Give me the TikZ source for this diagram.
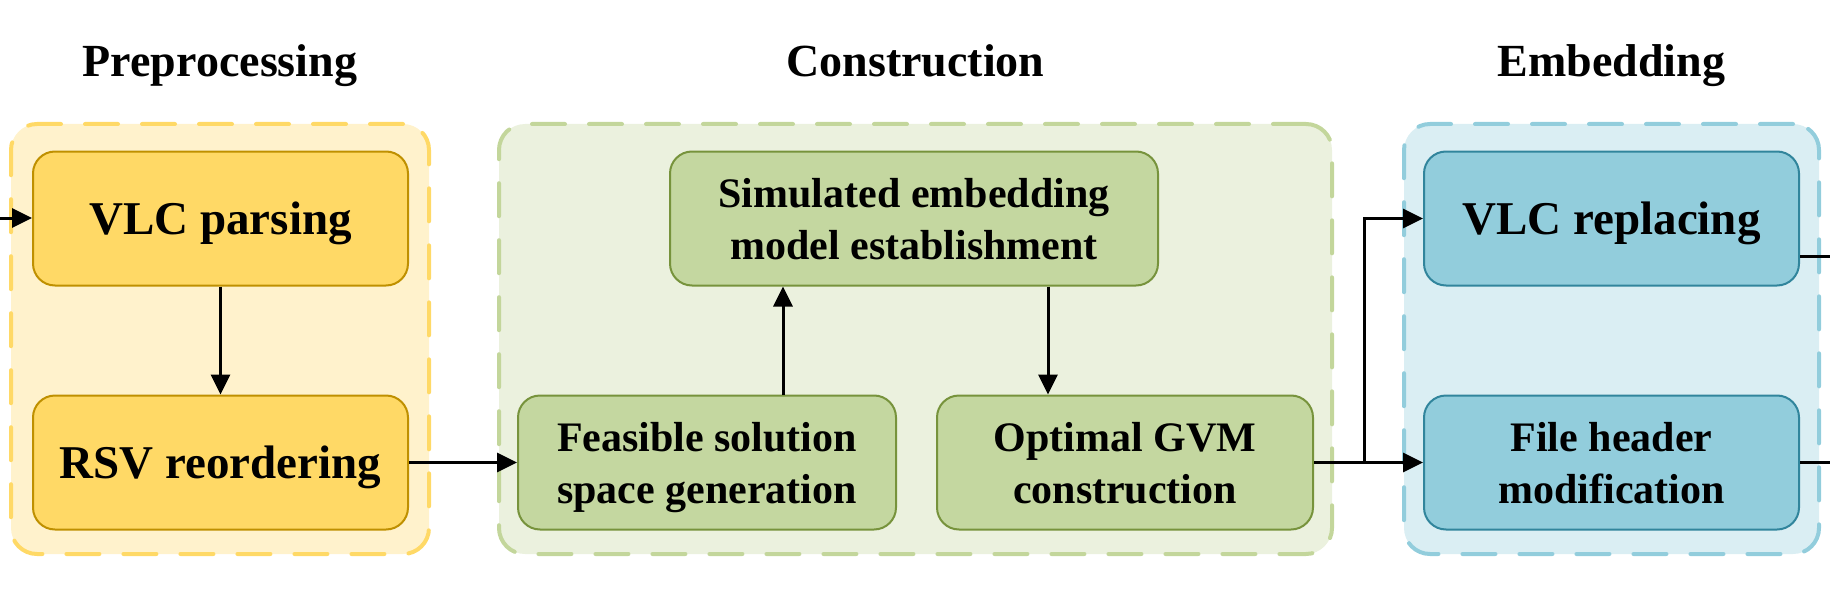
\documentclass[tikz,border=0pt]{standalone}
\usepackage{fontspec}
\setmainfont{Liberation Serif}
\usetikzlibrary{arrows.meta}
\definecolor{ygf}{HTML}{FFF2CC}
\definecolor{ygd}{HTML}{FFD966}
\definecolor{ybf}{HTML}{FFD966}
\definecolor{ybd}{HTML}{BF9000}
\definecolor{ggf}{HTML}{EBF1DE}
\definecolor{ggd}{HTML}{C3D69B}
\definecolor{gbf}{HTML}{C4D7A0}
\definecolor{gbd}{HTML}{77933C}
\definecolor{bgf}{HTML}{DAEEF3}
\definecolor{bgd}{HTML}{92CDDC}
\definecolor{bbf}{HTML}{92CDDC}
\definecolor{bbd}{HTML}{31859C}
\tikzset{
  grp/.style={rectangle, rounded corners=13pt, line width=2pt, dash pattern=on 16.5pt off 12pt, line cap=round, minimum height=215pt, inner sep=0pt},
  box/.style={rectangle, rounded corners=11pt, line width=1pt, minimum height=67pt, inner sep=0pt, align=center, text depth=0pt},
  bigtxt/.style={font=\fontsize{23.5pt}{26pt}\selectfont\bfseries},
  smalltxt/.style={font=\fontsize{21pt}{26pt}\selectfont\bfseries},
  ttl/.style={font=\fontsize{23pt}{26pt}\selectfont\bfseries, anchor=base, inner sep=0pt},
  conn/.style={line width=1.5pt},
  arr/.style={line width=1.5pt, -{Triangle[length=10pt,width=9.5pt]}},
}
\begin{document}
\begin{tikzpicture}[x=0.5pt,y=-0.5pt]
\useasboundingbox (0,0) rectangle (1830,615);
% groups
\node[grp, fill=ygf, draw=ygd, minimum width=209pt] (g1) at (220,339) {};
\node[grp, fill=ggf, draw=ggd, minimum width=416.5pt] (g2) at (915.5,339) {};
\node[grp, fill=bgf, draw=bgd, minimum width=207.5pt] (g3) at (1611.5,339) {};
% titles
\node[ttl] (t1) at (220,77) {Preprocessing};
\node[ttl] (t2) at (915.5,77) {Construction};
\node[ttl] (t3) at (1611.5,77) {Embedding};
% boxes
\node[box, bigtxt, fill=ybf, draw=ybd, minimum width=187.5pt] (vlcp) at (220.5,218.5) {VLC parsing};
\node[box, bigtxt, fill=ybf, draw=ybd, minimum width=187.5pt] (rsv) at (220.5,462.5) {RSV reordering};
\node[box, smalltxt, fill=gbf, draw=gbd, minimum width=244pt] (sim) at (914,218.5) {Simulated embedding\\model establishment};
\node[box, smalltxt, fill=gbf, draw=gbd, minimum width=189pt] (feas) at (707,462.5) {Feasible solution\\space generation};
\node[box, smalltxt, fill=gbf, draw=gbd, minimum width=188pt] (opt) at (1125,462.5) {Optimal GVM\\construction};
\node[box, bigtxt, fill=bbf, draw=bbd, minimum width=187.5pt] (vlcr) at (1611.5,218.5) {VLC replacing};
\node[box, smalltxt, fill=bbf, draw=bbd, minimum width=187.5pt] (fhm) at (1611.5,462.5) {File header\\modification};
% helper coordinates
\coordinate (in) at (0,218);
\coordinate (xup) at (783,0);
\coordinate (xdn) at (1048,0);
\coordinate (br) at (1364,462.5);
\coordinate (o1) at (1830,256);
\coordinate (o2) at (1830,462.5);
% connectors
\draw[arr] (in) -- (vlcp.west |- in);
\draw[arr] (vlcp.south) -- (rsv.north);
\draw[arr] (rsv.east) -- (feas.west);
\draw[arr] (feas.north -| xup) -- (sim.south -| xup);
\draw[arr] (sim.south -| xdn) -- (opt.north -| xdn);
\draw[conn] (opt.east) -- (br);
\draw[arr] (br) |- (vlcr.west);
\draw[arr] (br) -- (fhm.west);
\draw[conn] (vlcr.east |- o1) -- (o1);
\draw[conn] (fhm.east) -- (o2);
\end{tikzpicture}
\end{document}
